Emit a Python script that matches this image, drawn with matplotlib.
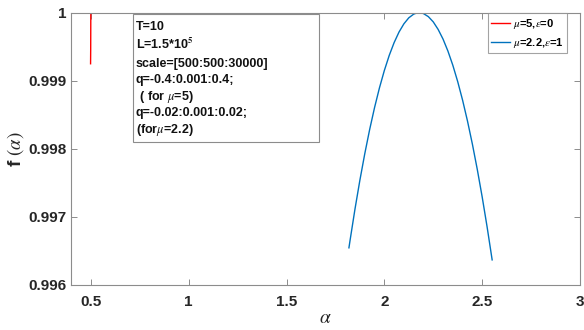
import matplotlib
matplotlib.use("Agg")
import matplotlib.pyplot as plt
from matplotlib.patches import Rectangle

plt.rcParams['font.family'] = ['Liberation Sans', 'DejaVu Sans']
plt.rcParams['mathtext.fontset'] = 'stix'

# Red series (mu=5, eps=0)
alpha_red = [0.4985, 0.4988, 0.4991, 0.4993, 0.4995, 0.4996, 0.4997, 0.4998]
f_red = [0.99925, 0.99935, 0.99945, 0.99960, 0.99978, 0.99990, 0.99997, 1.0]

# Blue series (mu=2.2, eps=1)
alpha_blue = [1.819, 1.825, 1.850, 1.875, 1.900, 1.925, 1.950, 1.975, 2.000,
              2.025, 2.050, 2.075, 2.100, 2.125, 2.150, 2.165, 2.178, 2.190,
              2.200, 2.225, 2.250, 2.275, 2.300, 2.325, 2.350, 2.375, 2.400,
              2.425, 2.450, 2.475, 2.500, 2.525, 2.551]
f_blue = [0.996546, 0.996660, 0.997117, 0.997540, 0.997929, 0.998285, 0.998607,
          0.998896, 0.999151, 0.999373, 0.999561, 0.999716, 0.999837, 0.999925,
          0.999979, 0.999995, 1.000000, 0.999996, 0.999987, 0.999942, 0.999865,
          0.999754, 0.999612, 0.999436, 0.999228, 0.998987, 0.998714, 0.998408,
          0.998069, 0.997698, 0.997294, 0.996857, 0.996369]

xticks = [0.5, 1, 1.5, 2, 2.5, 3]
xtick_labels = ['0.5', '1', '1.5', '2', '2.5', '3']
yticks = [0.996, 0.997, 0.998, 0.999, 1.0]
ytick_labels = ['0.996', '0.997', '0.998', '0.999', '1']

label_red = r'$\mu$=5,$\epsilon$=0'
label_blue = r'$\mu$=2.2,$\epsilon$=1'

info_lines = ['T=10', r'L=1.5*10$^{\mathbf{5}}$', 'scale=[500:500:30000]',
              'q=-0.4:0.001:0.4;', r' ( for $\mu$=5)', 'q=-0.02:0.001:0.02;',
              r'(for$\mu$=2.2)']

W, H = 584, 330
ax_l, ax_r, ax_t, ax_b = 71.3, 580.0, 12.7, 285.0

fig = plt.figure(figsize=(W / 100, H / 100), dpi=100)
ax = fig.add_axes([ax_l / W, 1 - ax_b / H, (ax_r - ax_l) / W, (ax_b - ax_t) / H])


def fx(px):
    return (px - ax_l) / (ax_r - ax_l)


def fy(py):
    return 1 - (py - ax_t) / (ax_b - ax_t)


ax.plot(alpha_red, f_red, color='#FF0000', lw=1.0, label=label_red)
ax.plot(alpha_blue, f_blue, color='#0072BD', lw=1.0, label=label_blue)

ax.set_xlim(0.4, 3)
ax.set_ylim(0.996, 1.0)
ax.set_xticks(xticks)
ax.set_xticklabels(xtick_labels)
ax.set_yticks(yticks)
ax.set_yticklabels(ytick_labels)

grey = '#8c8c8c'
for s in ax.spines.values():
    s.set_color(grey)
    s.set_linewidth(0.8)
ax.tick_params(direction='in', length=4, width=0.7, color=grey,
               top=True, right=True, labelsize=11)
ax.tick_params(axis='y', pad=3.3)
ax.tick_params(axis='x', pad=7)
for lab in ax.get_xticklabels() + ax.get_yticklabels():
    lab.set_fontweight('bold')
    lab.set_color('#262626')

ax.set_xlabel(r'$\alpha$', fontsize=14, color='#262626', labelpad=1)
ax.set_ylabel(r'f $(\alpha)$', fontsize=13.5, fontweight='bold', color='#262626', labelpad=2)

leg = ax.legend(loc='upper right', bbox_to_anchor=(fx(567), 1.0), fontsize=8,
                frameon=True, fancybox=False, handlelength=1.7, handletextpad=0.2,
                borderpad=0.35, labelspacing=0.45, borderaxespad=0.0)
leg.get_frame().set_edgecolor(grey)
leg.get_frame().set_linewidth(0.8)
for t in leg.get_texts():
    t.set_fontweight('bold')

# info box
ax.add_patch(Rectangle((fx(133), fy(142)), fx(319) - fx(133), fy(14) - fy(142),
                       transform=ax.transAxes, fc='white', ec=grey, lw=0.8, zorder=5))
line_y = [25, 43, 62, 79, 95, 111.5, 127.5]
for txt, py in zip(info_lines, line_y):
    ax.text(fx(136), fy(py), txt, transform=ax.transAxes, fontsize=9,
            fontweight='bold', va='center_baseline', ha='left', zorder=6, color='#111111')

fig.savefig('out.png', dpi=100)
